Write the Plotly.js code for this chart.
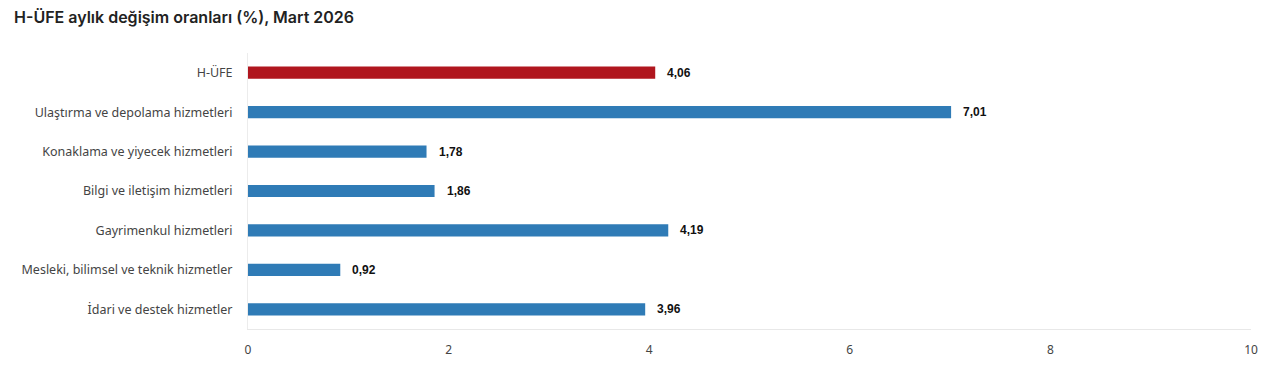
<!DOCTYPE html>
<html><head><meta charset="utf-8">
<script src="https://cdn.plot.ly/plotly-3.0.1.min.js"></script>
<style>html,body{margin:0;padding:0;background:#fff;}#chart{width:1280px;height:370px;}</style>
</head><body><div id="chart"></div>
<script>
const categories = ["H-ÜFE","Ulaştırma ve depolama hizmetleri","Konaklama ve yiyecek hizmetleri","Bilgi ve iletişim hizmetleri","Gayrimenkul hizmetleri","Mesleki, bilimsel ve teknik hizmetler","İdari ve destek hizmetler"];
const values = [4.06, 7.01, 1.78, 1.86, 4.19, 0.92, 3.96];
const labels = ["4,06","7,01","1,78","1,86","4,19","0,92","3,96"];
const barColors = ["#b0161e","#2f7bb6","#2f7bb6","#2f7bb6","#2f7bb6","#2f7bb6","#2f7bb6"];
const xTicks = [0,2,4,6,8,10];

const trace = {
  type: 'bar', orientation: 'h',
  x: values, y: categories,
  marker: {color: barColors},
  hoverinfo: 'none'
};
const annotations = values.map((v,i)=>({
  x: v, y: categories[i], xref:'x', yref:'y', text: labels[i],
  showarrow:false, xanchor:'left', xshift:10,
  font:{family:'Liberation Sans, Arial', size:12, color:'#111', weight:700}
}));
const layout = {
  width:1280, height:370,
  margin:{l:248, r:29, t:53, b:41},
  paper_bgcolor:'#fff', plot_bgcolor:'#fff',
  bargap:0.69,
  showlegend:false,
  title:{text:'H-ÜFE aylık değişim oranları (%), Mart 2026', x:14/1280, xanchor:'left', xref:'container', y:0.952, yanchor:'middle', yref:'container',
    font:{family:'Inter, Open Sans, sans-serif', size:16, color:'#222', weight:600}},
  xaxis:{range:[0,10], tickvals:xTicks, ticktext:xTicks.map(String), showgrid:false, zeroline:false,
    showline:true, linecolor:'#e8e8e8', linewidth:1, ticks:'outside', ticklen:10, tickcolor:'rgba(0,0,0,0)',
    tickfont:{family:'Noto Sans, Open Sans, sans-serif', size:12, color:'#444'}, fixedrange:true},
  yaxis:{autorange:'reversed', showgrid:false, zeroline:false, showline:true, linecolor:'#ececec', linewidth:1,
    ticks:'outside', ticklen:12, tickcolor:'rgba(0,0,0,0)',
    tickfont:{family:'Noto Sans, Open Sans, sans-serif', size:12.5, color:'#444'}, fixedrange:true},
  annotations: annotations
};
Plotly.newPlot('chart',[trace],layout,{displayModeBar:false, staticPlot:true});
</script></body></html>
